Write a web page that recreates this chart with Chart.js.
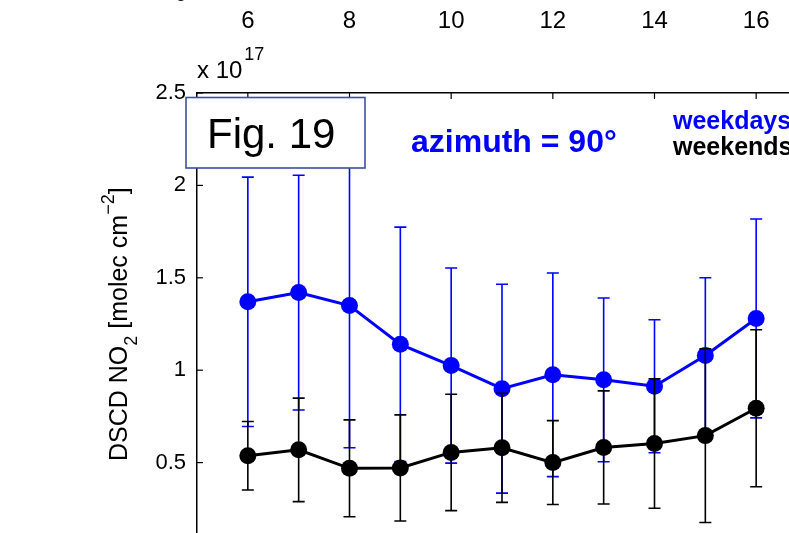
<!DOCTYPE html>
<html><head><meta charset="utf-8">
<script src="https://cdn.jsdelivr.net/npm/chart.js@4"></script>
<style>
html,body{margin:0;padding:0;background:#fff;overflow:hidden;width:789px;height:533px;}
#wrap{position:relative;width:789px;height:533px;overflow:hidden;background:#fff;}
#c1{position:absolute;left:0;top:0;width:807px;height:555px;}
#c2{position:absolute;left:0;top:-195px;width:807px;height:240px;}
</style></head><body>
<div id="wrap">
<canvas id="c2" width="807" height="240"></canvas>
<canvas id="c1" width="807" height="555"></canvas>
</div>
<script>
// ---- data (DSCD NO2 in units of 1e17 molec cm^-2) ----
const hours = [6, 7, 8, 9, 10, 11, 12, 13, 14, 15, 16];
const weekdayMean = [1.37, 1.42, 1.35, 1.14, 1.025, 0.90, 0.975, 0.948, 0.913, 1.08, 1.28];
const weekdayStd  = [0.675, 0.635, 0.77, 0.634, 0.528, 0.565, 0.551, 0.443, 0.36, 0.42, 0.538];
const weekendMean = [0.537, 0.569, 0.469, 0.471, 0.555, 0.58, 0.50, 0.582, 0.603, 0.646, 0.794];
const weekendStd  = [0.185, 0.28, 0.262, 0.287, 0.315, 0.295, 0.227, 0.306, 0.35, 0.47, 0.425];
const xTicks = [6, 8, 10, 12, 14, 16];
const yTicks = [0, 0.5, 1, 1.5, 2, 2.5];
const upperYTicks = [0];
const seriesNames = ['weekdays', 'weekends'];
const titleText = 'azimuth = 90°';
const figLabel = 'Fig. 19';

const FONT = 'Liberation Sans, Arial, sans-serif';

const errPlugin = {
  id: 'errbars',
  beforeDatasetDraw(chart, args) {
    const ds = chart.data.datasets[args.index];
    if (!ds.err) return;
    const xs = chart.scales.x, ys = chart.scales.y, ctx = chart.ctx;
    ctx.save();
    ctx.strokeStyle = ds.borderColor;
    ctx.lineWidth = 1.6;
    ds.data.forEach((p, i) => {
      const e = ds.err[i];
      const px = xs.getPixelForValue(p.x);
      const y1 = ys.getPixelForValue(p.y + e), y2 = ys.getPixelForValue(p.y - e);
      ctx.beginPath();
      ctx.moveTo(px, y1); ctx.lineTo(px, y2);
      ctx.moveTo(px - 6, y1); ctx.lineTo(px + 6, y1);
      ctx.moveTo(px - 6, y2); ctx.lineTo(px + 6, y2);
      ctx.stroke();
    });
    ctx.restore();
  }
};

const annoPlugin = {
  id: 'anno',
  afterDraw(chart) {
    const ctx = chart.ctx, xs = chart.scales.x, ys = chart.scales.y, a = chart.chartArea;
    ctx.save();
    // inward ticks
    ctx.strokeStyle = '#000'; ctx.lineWidth = 1.2;
    xTicks.forEach(v => {
      const px = xs.getPixelForValue(v);
      ctx.beginPath(); ctx.moveTo(px, a.top); ctx.lineTo(px, a.top + 6); ctx.stroke();
    });
    yTicks.forEach(v => {
      const py = ys.getPixelForValue(v);
      ctx.beginPath(); ctx.moveTo(a.left, py); ctx.lineTo(a.left + 6, py); ctx.stroke();
    });
    // exponent label
    ctx.fillStyle = '#000';
    ctx.textBaseline = 'alphabetic'; ctx.textAlign = 'left';
    ctx.font = '24px ' + FONT;
    ctx.fillText('x 10', 197, 78);
    const w10 = ctx.measureText('x 10').width;
    ctx.font = '18px ' + FONT;
    ctx.fillText('17', 197 + w10 + 2, 60);
    // y axis title
    ctx.save();
    ctx.translate(127, 461);
    ctx.rotate(-Math.PI / 2);
    let x = 0;
    const part = (t, size, dy) => {
      ctx.font = size + 'px ' + FONT;
      ctx.fillText(t, x, dy);
      x += ctx.measureText(t).width;
    };
    part('DSCD NO', 25, 0);
    part('2', 18, 10);
    part(' [molec cm', 25, 0);
    part('\u22122', 18, -13);
    part(']', 25, 0);
    ctx.restore();
    // title
    ctx.font = 'bold 32px ' + FONT;
    ctx.fillStyle = '#0000ff';
    ctx.fillText(titleText, 411, 152);
    // legend texts
    ctx.font = 'bold 25px ' + FONT;
    ctx.fillStyle = '#0000ff';
    ctx.fillText(seriesNames[0], 673, 129);
    ctx.fillStyle = '#000';
    ctx.fillText(seriesNames[1], 673, 155);
    // Fig box
    ctx.fillStyle = '#fff';
    ctx.fillRect(186, 97.5, 179, 70.5);
    ctx.strokeStyle = '#3d4fa0'; ctx.lineWidth = 1.6;
    ctx.strokeRect(186, 97.5, 179, 70.5);
    ctx.fillStyle = '#000';
    ctx.font = '42px ' + FONT;
    ctx.fillText(figLabel, 207, 148);
    ctx.restore();
  }
};

const mk = (i) => hours.map((h, k) => ({ x: h, y: i === 0 ? weekdayMean[k] : weekendMean[k] }));

new Chart(document.getElementById('c1'), {
  type: 'line',
  data: {
    datasets: [
      { label: seriesNames[1], data: mk(1), err: weekendStd, borderColor: '#000000', backgroundColor: '#000000',
        pointBackgroundColor: '#000000', borderWidth: 3, pointRadius: 8.5, pointBorderWidth: 0, pointHoverRadius: 8.5, order: 0, clip: false },
      { label: seriesNames[0], data: mk(0), err: weekdayStd, borderColor: '#0000ff', backgroundColor: '#0000ff',
        pointBackgroundColor: '#0000ff', borderWidth: 3, pointRadius: 8.5, pointBorderWidth: 0, pointHoverRadius: 8.5, order: 1, clip: false }
    ]
  },
  options: {
    responsive: false, animation: false, events: [],
    layout: { padding: 0, autoPadding: false },
    plugins: { legend: { display: false }, tooltip: { enabled: false } },
    scales: {
      x: {
        type: 'linear', position: 'top', min: 5, max: 17,
        afterBuildTicks: s => { s.ticks = xTicks.map(v => ({ value: v })); },
        ticks: { display: false },
        grid: { display: false, drawTicks: false },
        border: { display: true, color: '#000', width: 1.5 },
        afterFit: s => { s.height = 93; s.paddingLeft = 0; s.paddingRight = 0; }
      },
      y: {
        type: 'linear', min: 0, max: 2.5,
        afterBuildTicks: s => { s.ticks = yTicks.map(v => ({ value: v })); },
        ticks: { color: '#000', font: { family: FONT, size: 22 }, padding: 11, callback: v => String(v) },
        grid: { display: false, drawTicks: false },
        border: { display: true, color: '#000', width: 1.5 },
        afterFit: s => { s.width = 197; s.paddingTop = 0; s.paddingBottom = 0; }
      }
    }
  },
  plugins: [errPlugin, annoPlugin]
});

new Chart(document.getElementById('c2'), {
  type: 'line',
  data: { datasets: [{ data: [], showLine: false }] },
  options: {
    responsive: false, animation: false, events: [],
    layout: { padding: 0, autoPadding: false },
    plugins: { legend: { display: false }, tooltip: { enabled: false } },
    scales: {
      x: {
        type: 'linear', position: 'bottom', min: 5, max: 17,
        afterBuildTicks: s => { s.ticks = xTicks.map(v => ({ value: v })); },
        ticks: { color: '#000', font: { family: FONT, size: 24 }, padding: 12, maxRotation: 0, autoSkip: false, callback: v => String(v) },
        grid: { display: false, drawTicks: false },
        border: { display: false },
        afterFit: s => { s.height = 50; s.paddingLeft = 0; s.paddingRight = 0; }
      },
      y: {
        type: 'linear', min: 0, max: 1,
        afterBuildTicks: s => { s.ticks = upperYTicks.map(v => ({ value: v })); },
        ticks: { color: '#000', font: { family: FONT, size: 22 }, padding: 10, callback: v => String(v) },
        grid: { display: false, drawTicks: false },
        border: { display: false },
        afterFit: s => { s.width = 197; s.paddingTop = 0; s.paddingBottom = 0; }
      }
    }
  }
});
</script>
</body></html>
